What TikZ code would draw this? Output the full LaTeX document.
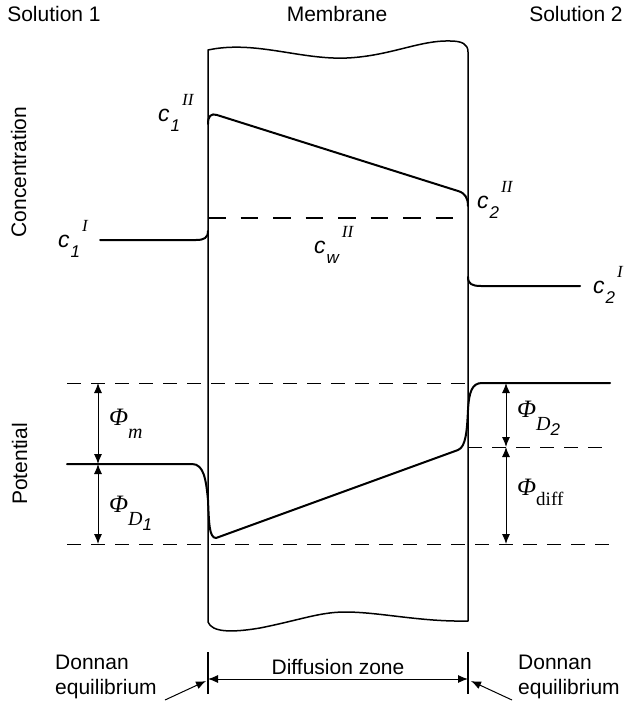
\documentclass[tikz,border=0pt]{standalone}
\usepackage{fontspec}
\setmainfont{Liberation Sans}
\newfontfamily\timesfont{Liberation Serif}
\usetikzlibrary{arrows.meta, positioning, calc}

\newcommand{\subfont}{\fontsize{17}{17}\selectfont}
\newcommand{\conc}[2]{\textit{c}\kern1pt\raisebox{-10pt}{\subfont\textit{#1}}\kern2pt\raisebox{16pt}{\subfont\timesfont\itshape #2}}
\newcommand{\phisym}{{\timesfont\itshape Φ}}
\newcommand{\phisub}[1]{\raisebox{-13pt}{\fontsize{20}{20}\selectfont\timesfont\itshape #1}}

\tikzset{
    membrane/.style={line width=1.5pt, line join=round},
    curve/.style={line width=2pt, line cap=round, line join=round},
    meanline/.style={line width=2.5pt, dash pattern=on 17.5pt off 15pt},
    levelline/.style={line width=0.9pt, dash pattern=on 14pt off 10pt},
    dimline/.style={{Latex[length=10pt,width=8pt]}-{Latex[length=10pt,width=8pt]}, line width=1pt},
    pointer/.style={-{Latex[length=10pt,width=8pt]}, line width=1pt},
    tickline/.style={line width=1.2pt},
    lbl/.style={font=\fontsize{21}{25}\selectfont, inner sep=0pt},
    sym/.style={font=\fontsize{23}{27}\selectfont, inner sep=0pt, anchor=base west},
    phisym/.style={font=\fontsize{25}{29}\selectfont, inner sep=0pt, anchor=base west},
}

\begin{document}
\begin{tikzpicture}[x=1pt, y=-1pt]
    \useasboundingbox (0,0) rectangle (624,703);

    % ── Headings ───────────────────────────────────────────────────
    \node[lbl, anchor=base] (sol1) at (54,22) {Solution 1};
    \node[lbl, anchor=base] (memb) at (337,22) {Membrane};
    \node[lbl, anchor=base] (sol2) at (576,22) {Solution 2};
    \node[lbl, anchor=base, rotate=90] (conc) at (26,172) {Concentration};
    \node[lbl, anchor=base, rotate=90] (pot)  at (27,464) {Potential};

    % ── Membrane ───────────────────────────────────────────────────
    \draw[membrane] (208,50) .. controls (255,40) and (300,60) .. (347,58)
        .. controls (390,56) and (420,40) .. (450,41)
        .. controls (462,41) and (468,44) .. (468,52)
        -- (468,621)
        .. controls (420,622) and (380,612) .. (345,612)
        .. controls (320,612) and (300,620) .. (260,628)
        .. controls (230,633) and (212,632) .. (208,622) -- cycle;

    % ── Concentration profile ──────────────────────────────────────
    \draw[curve] (100,240) -- (196,240) .. controls (204,240) and (208,238) .. (208,231);
    \draw[curve] (208,124) .. controls (208,116) and (211,113) .. (217,115)
        -- (458,191) .. controls (465,193) and (468,198) .. (468,206);
    \draw[curve] (468,277) .. controls (468,284) and (472,286) .. (481,286) -- (580,286);
    \draw[meanline] (208,218) -- (458,218);

    \node[sym] (c1o) at (58,247)  {\conc{1}{I}};
    \node[sym] (c1i) at (158,122) {\conc{1}{II}};
    \node[sym] (c2i) at (477,208) {\conc{2}{II}};
    \node[sym] (c2o) at (593,293) {\conc{2}{I}};
    \node[sym] (cw)  at (314,253) {\conc{w}{II}};

    % ── Potential profile ──────────────────────────────────────────
    \draw[levelline] (67,383) -- (468,383);
    \draw[levelline] (468,447) -- (610,447);
    \draw[levelline] (67,544) -- (610,544);
    \draw[curve] (67,464) -- (192,464) .. controls (204,464) and (206,480) .. (208,500)
        .. controls (209,522) and (209,538) .. (216,538)
        -- (458,450) .. controls (466,447) and (467,430) .. (468,410)
        .. controls (469,392) and (472,383) .. (482,383) -- (610,383);

    \coordinate (lTop) at (98,383);
    \coordinate (lMid) at (98,464);
    \coordinate (lBot) at (98,544);
    \coordinate (rTop) at (506,383);
    \coordinate (rMid) at (506,447);
    \coordinate (rBot) at (506,544);
    \draw[dimline] (lTop) -- (lMid);
    \draw[dimline] (lMid) -- (lBot);
    \draw[dimline] (rTop) -- (rMid);
    \draw[dimline] (rMid) -- (rBot);

    \node[phisym] (phim)  at (109,425) {\phisym\phisub{m}};
    \node[phisym] (phid1) at (109,512) {\phisym\phisub{D}\raisebox{-18pt}{\subfont\itshape 1}};
    \node[phisym] (phid2) at (517,417) {\phisym\phisub{D}\raisebox{-18pt}{\subfont\itshape 2}};
    \node[phisym] (phidf) at (517,495) {\phisym\raisebox{-10pt}{\fontsize{19}{19}\selectfont\timesfont diff}};

    % ── Zones ──────────────────────────────────────────────────────
    \coordinate (zlTop) at (208,652);
    \coordinate (zlBot) at (208,694);
    \coordinate (zrTop) at (468,652);
    \coordinate (zrBot) at (468,694);
    \draw[tickline] (zlTop) -- (zlBot);
    \draw[tickline] (zrTop) -- (zrBot);
    \draw[dimline] (208,679) -- node[lbl, above=4pt] (diff) {Diffusion zone} (468,679);

    \node[lbl, anchor=north west, align=left] (donl) at (55,655) {Donnan\\equilibrium};
    \node[lbl, anchor=north west, align=left] (donr) at (518,655) {Donnan\\equilibrium};
    \coordinate (pl) at (165,700);
    \coordinate (pr) at (512,700);
    \draw[pointer] (pl) -- (206,681);
    \draw[pointer] (pr) -- (471,681);

\end{tikzpicture}
\end{document}
